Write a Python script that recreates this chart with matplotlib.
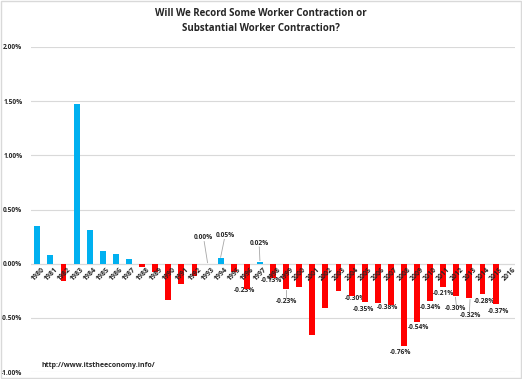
import matplotlib.pyplot as plt
import numpy as np
from matplotlib.patches import Rectangle

plt.rcParams['font.family'] = ['Open Sans', 'DejaVu Sans']

# data (percent change per year)
years = list(range(1980, 2017))
values = [0.35, 0.08, -0.16, 1.47, 0.31, 0.12, 0.09, 0.04, -0.03, -0.08,
          -0.33, -0.19, -0.11, 0.00, 0.05, -0.08, -0.23, 0.02, -0.13, -0.23,
          -0.21, -0.66, -0.41, -0.25, -0.30, -0.35, -0.36, -0.38, -0.76, -0.54,
          -0.34, -0.21, -0.30, -0.32, -0.28, -0.37, 0.00]

# which years get a data label
labeled_years = [1993, 1994, 1996, 1997, 1998, 1999, 2004, 2005, 2007, 2008,
                 2009, 2010, 2011, 2012, 2013, 2014, 2015]

title = 'Will We Record Some Worker Contraction or\nSubstantial Worker Contraction?'
source = 'http://www.itstheeconomy.info/'

BLUE = '#00B0F0'
RED = '#FF0000'
GRID = '#D9D9D9'
TXT = '#262626'

# label placement: year -> (x offset in categories, y position, leader line?)
label_pos = {
    1993: (-0.32, 0.24, True),
    1994: (0.35, 0.26, True),
    1996: (-0.2, -0.25, False),
    1997: (-0.06, 0.19, True),
    1998: (-0.14, -0.155, False),
    1999: (0.0, -0.35, True),
    2004: (0.28, -0.32, False),
    2005: (-0.11, -0.42, False),
    2007: (-0.28, -0.405, False),
    2008: (-0.28, -0.82, False),
    2009: (0.1, -0.59, False),
    2010: (0.0, -0.40, False),
    2011: (0.0, -0.27, False),
    2012: (-0.08, -0.415, True),
    2013: (0.06, -0.48, True),
    2014: (0.13, -0.35, False),
    2015: (0.2, -0.44, False),
}

fig = plt.figure(figsize=(5.22, 3.79), dpi=100)
ax = fig.add_axes([0.059, 0.018, 0.928, 0.858])

x = np.arange(len(years))
vals = np.array(values)
colors = [BLUE if v > 0 else RED for v in vals]
ax.bar(x, vals, width=0.45, color=colors, zorder=3)

ax.set_xlim(-0.5, len(years) - 0.5)
ax.set_ylim(-1.0, 2.0)
ax.set_yticks(np.arange(-1.0, 2.01, 0.5))
ax.set_yticklabels(['{:.2f}%'.format(t) for t in np.arange(-1.0, 2.01, 0.5)],
                   fontsize=4.8, color=TXT, fontweight='bold')
ax.tick_params(axis='y', length=0, pad=6)
ax.set_xticks([])
ax.grid(axis='y', color=GRID, linewidth=0.8, zorder=0)
ax.axhline(0, color=GRID, linewidth=0.8, zorder=1)
for s in ax.spines.values():
    s.set_visible(False)

# year labels along the zero line
for i, yr in enumerate(years):
    ax.text(i + 0.05, -0.02, str(yr), rotation=45, ha='center', va='top',
            fontsize=5, color=TXT, fontweight='bold', zorder=4)

# data labels
for yr in labeled_years:
    i = years.index(yr)
    v = values[i]
    dx, ly, leader = label_pos[yr]
    txt = '{:.2f}%'.format(v)
    ax.text(i + dx, ly, txt, ha='center', va='center', fontsize=4.8,
            color=TXT, fontweight='bold', zorder=2)
    if leader:
        if v >= 0:
            y0, y1 = ly - 0.035, v + 0.01
        else:
            y0, y1 = v - 0.01, ly + 0.035
        ax.plot([i + dx * 0.8, i], [y0, y1], color='#A6A6A6', lw=0.6, zorder=2)

fig.text(0.5, 0.945, title, ha='center', va='center', fontsize=7,
         fontweight='bold', color=TXT, linespacing=1.5)
fig.text(0.08, 0.035, source, ha='left', va='center', fontsize=5,
         fontweight='bold', color=TXT)

fig.patches.append(Rectangle((0.001, 0.003), 0.997, 0.994, transform=fig.transFigure,
                             fill=False, edgecolor=GRID, lw=1))

fig.savefig('out.png', dpi=100)
